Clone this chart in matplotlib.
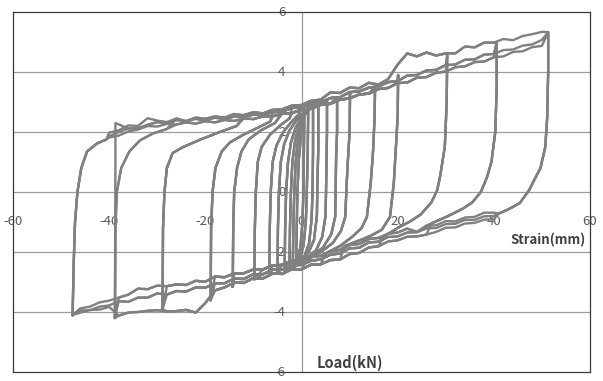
import matplotlib
matplotlib.use("Agg")
import matplotlib.pyplot as plt

plt.rcParams['font.family'] = ['Noto Sans CJK KR', 'DejaVu Sans']

# ---------------- data ----------------
# shared upper branch (loading toward +) read at every 2 mm
UP_X = [-46, -44, -42, -40, -38, -36, -34, -32, -30, -28, -26, -24, -22, -20, -18, -16, -14, -12, -10, -8,
        -6, -4, -2, 0, 2, 4, 6, 8, 10, 12, 14, 16, 18, 20, 22, 24, 26, 28, 30, 32,
        34, 36, 38, 40, 42, 44, 46, 48, 50, 52]
UP_A = [1.50, 1.64, 1.70, 1.82, 1.88, 2.02, 2.08, 2.20, 2.18, 2.27, 2.25, 2.32, 2.28, 2.36, 2.32, 2.40, 2.37, 2.45, 2.43, 2.52,
        2.52, 2.62, 2.63, 2.75, 2.78, 2.91, 2.94, 3.08, 3.12, 3.25, 3.28, 3.43, 3.47, 3.63, 3.65, 3.81, 3.83, 3.98, 4.01, 4.16,
        4.19, 4.33, 4.35, 4.49, 4.52, 4.67, 4.69, 4.83, 4.87, 4.98]
UP_C = [1.45, 1.58, 1.74, 1.86, 2.00, 2.12, 2.12, 2.24, 2.33, 2.30, 2.40, 2.36, 2.44, 2.38, 2.48, 2.42, 2.52, 2.50, 2.58, 2.56,
        2.66, 2.68, 2.80, 2.82, 2.95, 2.99, 3.13, 3.16, 3.33, 3.35, 3.48, 3.52, 3.66, 3.70, 3.88, 3.90, 4.05, 4.07, 4.23, 4.25,
        4.41, 4.42, 4.58, 4.60, 4.73, 4.75, 4.88, 4.92, 5.07, 5.10]
UP_B = [1.60, 1.78, 1.82, 1.98, 2.06, 2.22, 2.20, 2.46, 2.38, 2.33, 2.45, 2.36, 2.48, 2.44, 2.52, 2.48, 2.60, 2.56, 2.66, 2.62,
        2.74, 2.76, 2.88, 2.90, 3.04, 3.08, 3.32, 3.30, 3.48, 3.46, 3.64, 3.58, 3.76, 4.25, 4.62, 4.52, 4.65, 4.55, 4.62, 4.62,
        4.85, 4.82, 4.98, 4.98, 5.10, 5.06, 5.20, 5.26, 5.34, 5.30]

# shared lower branch (unloading toward -) read at every 2 mm
LO_X = [-48, -46, -44, -42, -40, -38, -36, -34, -32, -30, -28, -26, -24, -22, -20, -18, -16, -14, -12, -10,
        -8, -6, -4, -2, 0, 2, 4, 6, 8, 10, 12, 14, 16, 18, 20, 22, 24, 26, 28, 30,
        32, 34, 36, 38, 40, 42, 44, 46, 48]
LO_A = [-4.05, -3.95, -3.94, -3.82, -3.78, -3.64, -3.66, -3.52, -3.52, -3.38, -3.42, -3.30, -3.32, -3.18, -3.19, -3.04, -3.04, -2.89, -2.90, -2.74,
        -2.74, -2.59, -2.59, -2.44, -2.43, -2.29, -2.25, -2.09, -2.05, -1.88, -1.86, -1.68, -1.66, -1.50, -1.48, -1.35, -1.34, -1.21, -1.20, -1.07,
        -1.06, -0.93, -0.93, -0.81, -0.80, -0.70, -0.66, -0.53, -0.47]
LO_B = [-4.10, -4.02, -3.93, -3.92, -3.83, -4.12, -4.02, -4.00, -3.96, -3.94, -3.98, -3.97, -3.93, -4.02, -3.70, -3.28, -3.18, -3.02, -3.03, -2.87,
        -2.88, -2.72, -2.73, -2.57, -2.58, -2.42, -2.41, -2.27, -2.25, -2.07, -2.03, -1.85, -1.81, -1.65, -1.61, -1.49, -1.48, -1.42, -1.33, -1.19,
        -1.18, -1.05, -1.03, -0.92, -0.91, -0.77, -0.75, -0.60, -0.52]
LO_C = [-4.00, -3.88, -3.82, -3.68, -3.62, -3.52, -3.42, -3.22, -3.24, -3.12, -3.14, -3.08, -3.10, -2.96, -2.99, -2.82, -2.84, -2.72, -2.71, -2.58,
        -2.58, -2.45, -2.43, -2.29, -2.28, -2.15, -2.13, -1.97, -1.93, -1.77, -1.73, -1.57, -1.53, -1.39, -1.35, -1.22, -1.33, -1.12, -1.11, -0.97,
        -0.98, -0.85, -0.83, -0.69, -0.69, -0.55, -0.53, -0.40, -0.38]

# reversal from each negative peak (rise), one list per amplitude level
RISE_X = [
    [-1.1, -1.0, -0.85, -0.55, -0.1, 0.3],
    [-1.8, -1.7, -1.5, -1.2, -0.7, 0.1, 0.9],
    [-2.5, -2.4, -2.2, -1.9, -1.3, -0.4, 1.0, 1.8],
    [-3.5, -3.4, -3.2, -2.8, -2.2, -1.2, 0.3, 1.8],
    [-5.0, -4.9, -4.7, -4.3, -3.6, -2.5, -1.0, 0.8],
    [-6.7, -6.6, -6.4, -6.0, -5.2, -3.8, -2.0, -0.5],
    [-9.8, -9.7, -9.5, -9.1, -8.3, -6.6, -4.2, -2.5],
    [-14.3, -14.2, -14.0, -13.4, -12.5, -11.0, -8.5, -5.5],
    [-18.9, -18.8, -18.5, -17.9, -16.6, -14.9, -12.2, -9.0, -6.5],
    [-28.9, -28.8, -28.5, -28.0, -26.8, -24.6, -21.0, -17.0, -13.5],
    [-38.8, -38.7, -38.4, -37.5, -35.8, -33.6, -30.9, -28.0],
    [-47.6, -47.4, -47.1, -46.6, -45.8, -44.6, -42.5, -40.6],
]
RISE_Y = [
    [-2.40, -1.2, 0.0, 1.10, 1.90, 2.40],
    [-2.45, -1.2, 0.0, 1.00, 1.80, 2.35, 2.65],
    [-2.50, -1.2, 0.0, 1.00, 1.75, 2.25, 2.65, 2.78],
    [-2.60, -1.2, 0.0, 1.00, 1.65, 2.15, 2.55, 2.80],
    [-2.65, -1.2, 0.0, 1.00, 1.60, 2.05, 2.40, 2.70],
    [-2.75, -1.2, 0.0, 1.00, 1.55, 2.00, 2.35, 2.60],
    [-2.90, -1.2, 0.0, 1.00, 1.50, 1.90, 2.25, 2.45],
    [-3.15, -1.2, 0.0, 0.80, 1.35, 1.75, 2.05, 2.30],
    [-3.60, -1.2, 0.0, 0.80, 1.35, 1.65, 1.90, 2.15, 2.35],
    [-3.90, -1.2, 0.0, 0.80, 1.30, 1.50, 1.75, 2.00, 2.20],
    [-4.15, -1.2, 0.0, 0.80, 1.35, 1.72, 1.95, 2.10],
    [-4.10, -2.5, -1.0, 0.00, 0.80, 1.35, 1.62, 1.75],
]
# second reversal path at the -39 mm peak (sharp corner)
RISE_X_ALT = [-38.8, -38.75, -38.7, -38.7, -37.5, -36.6]
RISE_Y_ALT = [-4.20, -1.2, 1.0, 2.30, 2.22, 2.15]

# reversal from each positive peak (fall)
FALL_X = [
    [0.6, 0.5, 0.4, 0.2, -0.2, -0.8],
    [1.4, 1.3, 1.1, 0.9, 0.4, -0.5],
    [2.4, 2.4, 2.3, 2.1, 1.6, 0.6, -1.0],
    [3.5, 3.5, 3.3, 3.2, 2.6, 1.5, -0.5, -2.5],
    [5.3, 5.3, 5.2, 5.1, 5.0, 4.3, 3.0, 1.0, -2.0],
    [7.4, 7.4, 7.2, 7.1, 7.0, 6.2, 4.5, 2.0, -1.0],
    [10.1, 10.0, 9.7, 9.4, 9.1, 8.2, 6.5, 4.0, 1.0],
    [15.3, 15.2, 14.9, 14.4, 13.6, 12.5, 10.5, 8.0, 5.0],
    [20.1, 20.0, 19.6, 19.2, 18.4, 16.7, 14.5, 12.6, 9.0],
    [30.3, 30.2, 29.8, 28.8, 28.2, 27.0, 24.8, 22.6, 20.0, 17.0],
    [40.6, 40.6, 40.3, 39.5, 38.6, 37.3, 35.5, 33.6, 30.5, 27.0],
    [51.3, 51.3, 51.1, 50.7, 49.7, 48.4, 47.3, 45.4, 43.0, 41.0],
]
FALL_Y = [
    [2.70, 1.4, 0.0, -1.00, -1.80, -2.30],
    [2.78, 1.4, 0.0, -1.00, -1.80, -2.30],
    [2.85, 1.4, 0.0, -0.90, -1.70, -2.15, -2.45],
    [2.92, 1.5, 0.2, -0.80, -1.60, -2.00, -2.35, -2.50],
    [3.05, 2.0, 1.0, 0.00, -0.80, -1.50, -1.95, -2.20, -2.45],
    [3.15, 2.0, 1.2, 0.00, -0.83, -1.40, -1.85, -2.15, -2.40],
    [3.30, 2.0, 1.2, 0.30, -0.83, -1.30, -1.70, -2.00, -2.28],
    [3.50, 2.5, 1.4, 0.30, -0.83, -1.20, -1.50, -1.80, -2.05],
    [3.90, 2.5, 1.4, 0.30, -0.83, -1.26, -1.45, -1.58, -1.80],
    [4.55, 3.0, 1.5, 0.50, 0.05, -0.35, -0.75, -0.98, -1.20, -1.50],
    [5.00, 3.5, 2.0, 1.00, 0.50, 0.00, -0.35, -0.55, -0.80, -1.05],
    [5.33, 4.0, 2.5, 1.50, 0.80, 0.40, 0.05, -0.37, -0.58, -0.72],
]

Y_TICKS = [-6, -4, -2, 0, 2, 4, 6]
X_TICKS = [-60, -40, -20, 0, 20, 40, 60]
X_LABEL = "Strain(mm)"
Y_LABEL = "Load(kN)"

LINE_COLOR = "#808080"
GRID_COLOR = "#9c9c9c"


def loop_path(rx, ry, fx, fy, ux, uy, lx, ly):
    xs, ys = list(rx), list(ry)
    for x, y in zip(ux, uy):
        if rx[-1] < x < fx[0]:
            xs.append(x)
            ys.append(y)
    xs += fx
    ys += fy
    for x, y in reversed(list(zip(lx, ly))):
        if rx[0] < x < fx[-1]:
            xs.append(x)
            ys.append(y)
    xs.append(rx[0])
    ys.append(ry[0])
    return xs, ys


fig = plt.figure(figsize=(6.03, 3.81), dpi=100)
ax = fig.add_axes([13 / 603, 1 - 372 / 381, 577 / 603, 360 / 381])
ax.set_xlim(-60, 60)
ax.set_ylim(-6, 6)
ax.set_xticks([])
ax.set_yticks([])
for s in ax.spines.values():
    s.set_color("#3a3a3a")
    s.set_linewidth(0.9)

for v in Y_TICKS[1:-1]:
    ax.axhline(v, color=GRID_COLOR, lw=0.9, zorder=1)
ax.axvline(0, color=GRID_COLOR, lw=0.9, zorder=1)

n = len(RISE_X)
for i in range(n):
    cycles = [(UP_A, LO_A), (UP_C, LO_B)]
    cycles.append((UP_B, LO_C) if FALL_X[i][0] >= 30 else (UP_A, LO_C))
    for k, (uy, ly) in enumerate(cycles):
        rx, ry = RISE_X[i], RISE_Y[i]
        if i == 10 and k == 1:
            rx, ry = RISE_X_ALT, RISE_Y_ALT
        xs, ys = loop_path(rx, ry, FALL_X[i], FALL_Y[i], UP_X, uy, LO_X, ly)
        ax.plot(xs, ys, color=LINE_COLOR, lw=1.7, solid_joinstyle='round', zorder=3)

tick_kw = dict(fontsize=9.5, color="#595959", zorder=2)
for v in Y_TICKS:
    ax.annotate(str(v), xy=(0, v), xytext=(-11.5, 0), textcoords='offset points',
                ha='right', va='center', annotation_clip=False, **tick_kw)
for v in X_TICKS:
    ax.annotate(str(v), xy=(v, 0), xytext=(0, -21.5), textcoords='offset points',
                ha='center', va='center', annotation_clip=False, **tick_kw)

ax.text(59, -1.6, X_LABEL, ha='right', va='center', fontsize=9.5, fontweight='bold', color="#404040", zorder=4)
ax.text(3.2, -5.7, Y_LABEL, ha='left', va='center', fontsize=10.5, fontweight='bold', color="#404040", zorder=4)

fig.savefig("out.png", dpi=100)
